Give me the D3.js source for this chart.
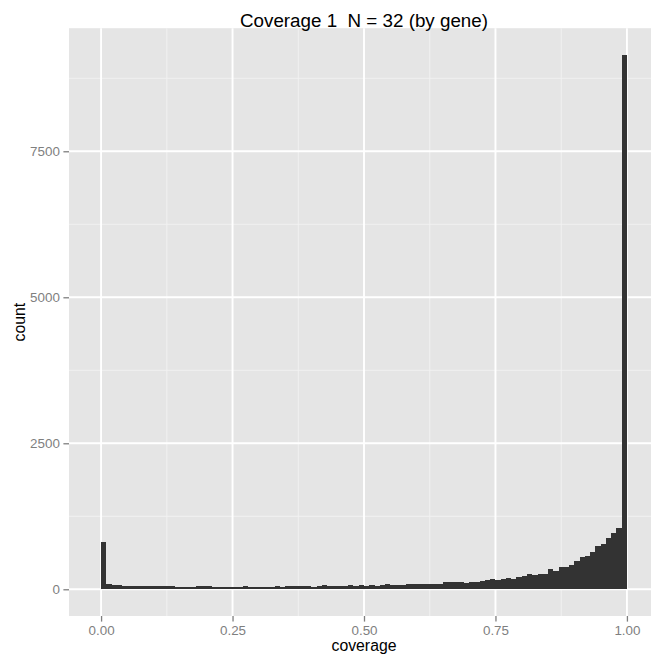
<!DOCTYPE html>
<html>
<head>
<meta charset="utf-8">
<script src="https://cdn.jsdelivr.net/npm/d3@7"></script>
<style>
  html, body { margin: 0; padding: 0; background: #ffffff; }
  svg { display: block; font-family: "Liberation Sans", Arial, Helvetica, sans-serif; }
  .title { white-space: pre; }
</style>
</head>
<body>
<svg id="chart" width="651" height="660"></svg>
<script>
// Histogram of per-gene coverage, bins of width 0.01 on [0, 1]
const chartTitle = "Coverage 1  N = 32 (by gene)";
const binWidth = 0.01;
const counts = [
  810, 97, 80, 80, 57, 57, 57, 57, 57, 52,
  60, 60, 55, 60, 45, 45, 45, 40, 63, 63,
  63, 40, 40, 40, 40, 40, 40, 63, 40, 40,
  40, 40, 40, 63, 46, 57, 57, 57, 57, 57,
  46, 63, 80, 63, 63, 63, 63, 80, 63, 80,
  63, 74, 63, 80, 91, 74, 80, 80, 91, 86,
  91, 91, 97, 91, 97, 120, 126, 126, 126, 108,
  126, 126, 143, 165, 177, 160, 177, 194, 177, 217,
  234, 262, 245, 262, 262, 348, 314, 382, 382, 414,
  485, 555, 570, 636, 738, 776, 878, 964, 1050, 9150
];
const xTicks = [0, 0.25, 0.5, 0.75, 1];
const xTickLabels = ["0.00", "0.25", "0.50", "0.75", "1.00"];
const xMinor = [0.125, 0.375, 0.625, 0.875];
const yTicks = [0, 2500, 5000, 7500];
const yTickLabels = ["0", "2500", "5000", "7500"];
const yMinor = [1250, 3750, 6250, 8750];

const bins = counts.map((c, i) => ({ x0: i * binWidth, x1: (i + 1) * binWidth, count: c }));

const svg = d3.select("#chart");
const panel = { left: 69, right: 659, top: 28.2, bottom: 616 };

// ggplot-style expanded domains
const xLo = -0.01, xHi = 1.01;
const xPad = (xHi - xLo) * 0.05;
const x = d3.scaleLinear().domain([xLo - xPad, xHi + xPad]).range([panel.left, panel.right]);
const yMax = d3.max(counts);
const yPad = yMax * 0.05;
const y = d3.scaleLinear().domain([-yPad, yMax + yPad]).range([panel.bottom, panel.top]);

svg.append("rect")
  .attr("x", panel.left).attr("y", panel.top)
  .attr("width", panel.right - panel.left).attr("height", panel.bottom - panel.top)
  .attr("fill", "#E5E5E5");

const grid = svg.append("g");
grid.selectAll(".xminor").data(xMinor).enter().append("line")
  .attr("x1", d => x(d)).attr("x2", d => x(d))
  .attr("y1", panel.top).attr("y2", panel.bottom)
  .attr("stroke", "#F2F2F2").attr("stroke-width", 0.95);
grid.selectAll(".yminor").data(yMinor).enter().append("line")
  .attr("y1", d => y(d)).attr("y2", d => y(d))
  .attr("x1", panel.left).attr("x2", panel.right)
  .attr("stroke", "#F2F2F2").attr("stroke-width", 0.95);
grid.selectAll(".xmajor").data(xTicks).enter().append("line")
  .attr("x1", d => x(d)).attr("x2", d => x(d))
  .attr("y1", panel.top).attr("y2", panel.bottom)
  .attr("stroke", "#FFFFFF").attr("stroke-width", 1.9);
grid.selectAll(".ymajor").data(yTicks).enter().append("line")
  .attr("y1", d => y(d)).attr("y2", d => y(d))
  .attr("x1", panel.left).attr("x2", panel.right)
  .attr("stroke", "#FFFFFF").attr("stroke-width", 1.9);

// bars
svg.append("g").attr("shape-rendering", "crispEdges")
  .selectAll("rect").data(bins).enter().append("rect")
  .attr("x", d => x(d.x0))
  .attr("width", d => x(d.x1) - x(d.x0))
  .attr("y", d => y(d.count))
  .attr("height", d => y(0) - y(d.count))
  .attr("fill", "#333333");

// x axis
const xAxis = d3.axisBottom(x).tickValues(xTicks)
  .tickFormat((d, i) => xTickLabels[i]).tickSize(5.6).tickPadding(4);
const gx = svg.append("g").attr("transform", `translate(0,${panel.bottom})`).call(xAxis);
gx.select(".domain").remove();
gx.selectAll(".tick line").attr("stroke", "#7F7F7F").attr("stroke-width", 1.3);
gx.selectAll(".tick text").attr("fill", "#7F7F7F").attr("font-size", "13.4px")
  .attr("font-family", "Liberation Sans, Arial, sans-serif");

// y axis
const yAxis = d3.axisLeft(y).tickValues(yTicks)
  .tickFormat((d, i) => yTickLabels[i]).tickSize(5.6).tickPadding(3.5);
const gy = svg.append("g").attr("transform", `translate(${panel.left},0)`).call(yAxis);
gy.select(".domain").remove();
gy.selectAll(".tick line").attr("stroke", "#7F7F7F").attr("stroke-width", 1.3);
gy.selectAll(".tick text").attr("fill", "#7F7F7F").attr("font-size", "13.4px")
  .attr("font-family", "Liberation Sans, Arial, sans-serif");

// titles
const cx = (panel.left + panel.right) / 2;
svg.append("text").attr("class", "title").attr("x", cx).attr("y", 26.5)
  .attr("text-anchor", "middle").attr("font-size", "18.8px").attr("fill", "#000")
  .text(chartTitle);
svg.append("text").attr("x", cx).attr("y", 651)
  .attr("text-anchor", "middle").attr("font-size", "15.8px").attr("fill", "#000")
  .text("coverage");
svg.append("text")
  .attr("transform", `translate(25,${(panel.top + panel.bottom) / 2}) rotate(-90)`)
  .attr("text-anchor", "middle").attr("font-size", "15.8px").attr("fill", "#000")
  .text("count");
</script>
</body>
</html>
